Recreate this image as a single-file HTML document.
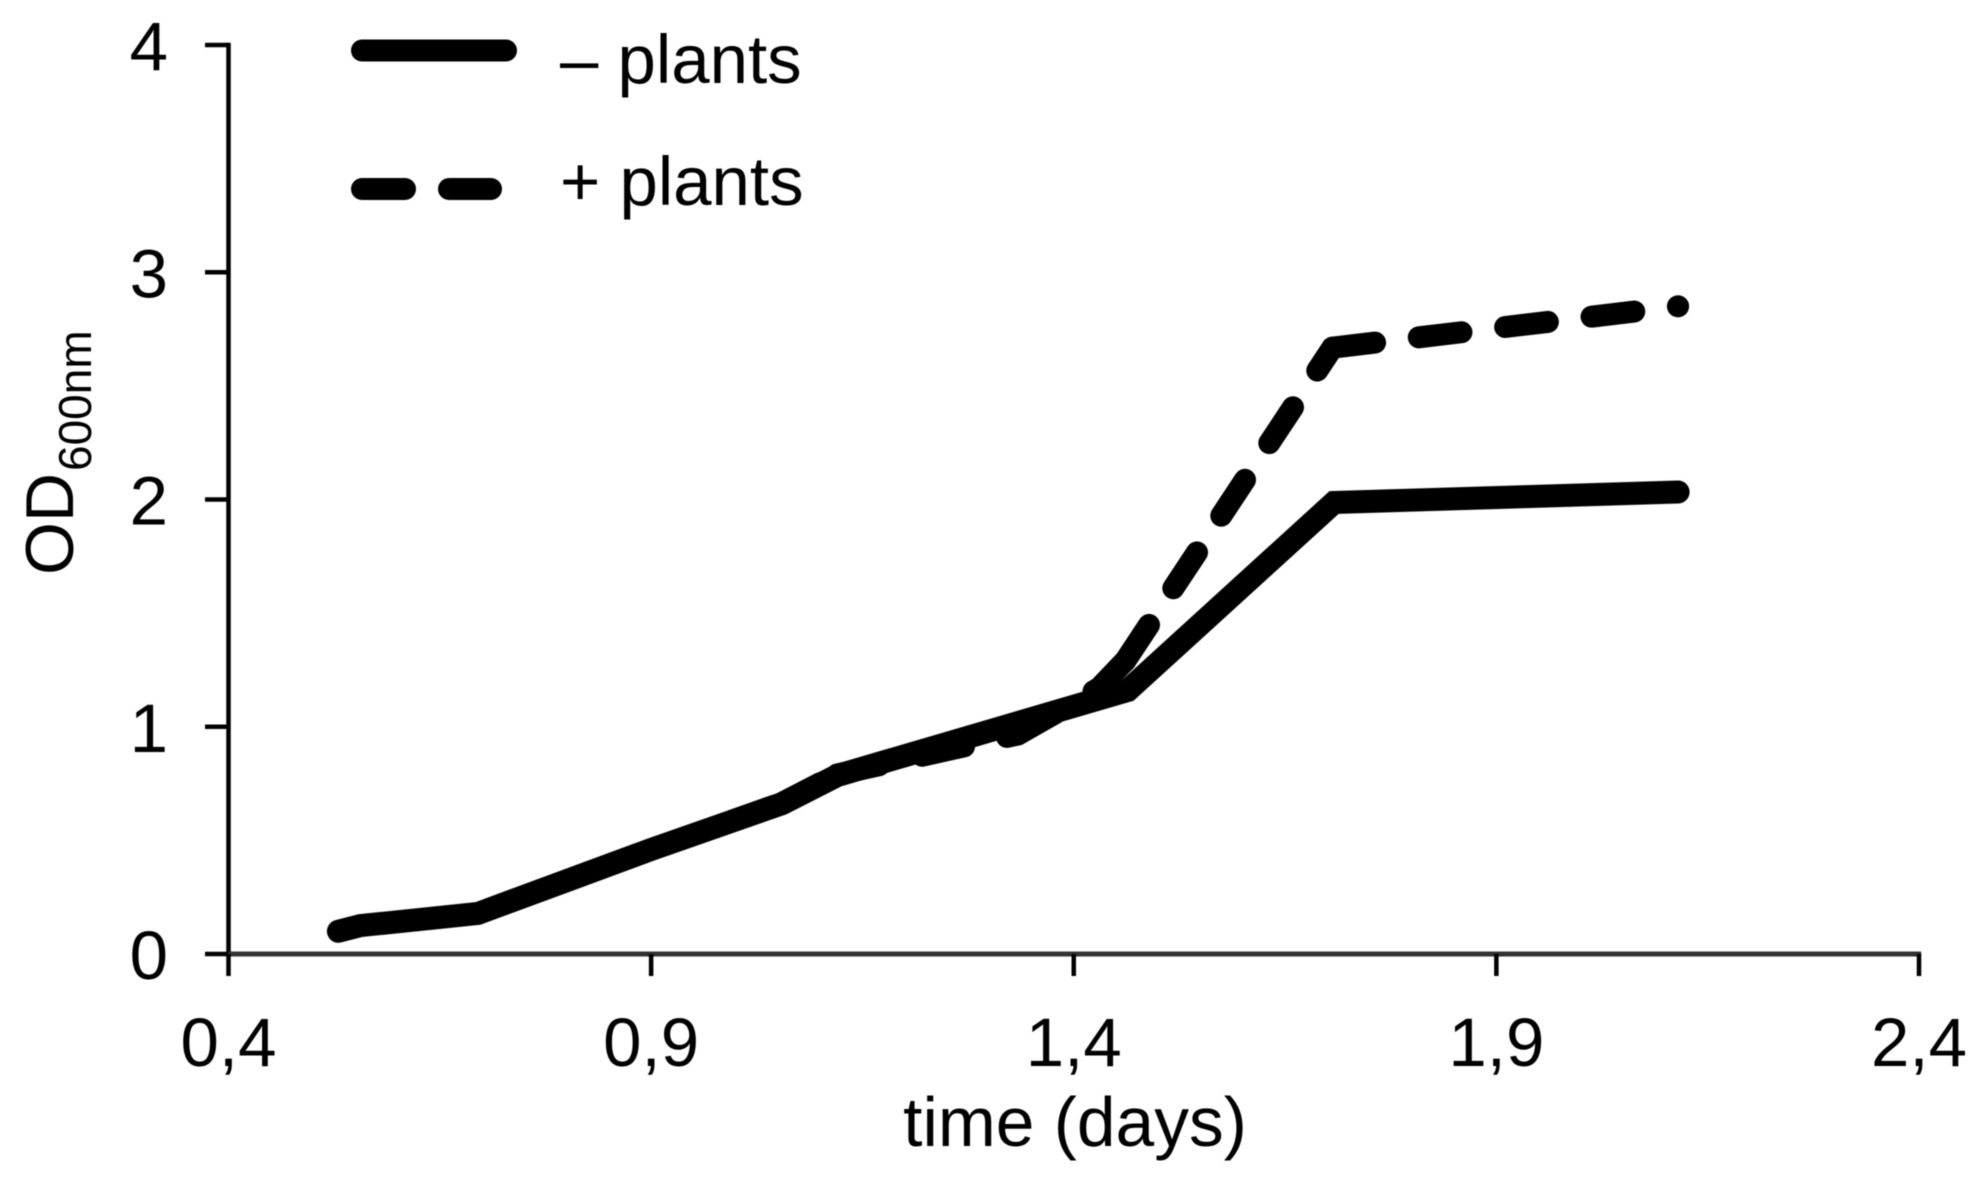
<!DOCTYPE html>
<html lang="en">
<head>
<meta charset="utf-8">
<title>OD600nm over time</title>
<style>
html,body{margin:0;padding:0;background:#fff;}
svg{display:block;filter:blur(0.5px);}
text{font-family:"Liberation Sans",Arial,sans-serif;fill:#000;}
</style>
</head>
<body>
<svg id="chart" xmlns="http://www.w3.org/2000/svg" width="1988" height="1183" viewBox="0 0 1988 1183">
  <rect x="0" y="0" width="1988" height="1183" fill="#fff"/>
  <g id="axes"></g>
  <g id="series"></g>
  <g>
    <line x1="362" y1="50.5" x2="506" y2="50.5" stroke="#000" stroke-width="22" stroke-linecap="round"/>
    <text x="560" y="83" font-size="69">– plants</text>
    <line x1="362" y1="189" x2="491" y2="189" stroke="#000" stroke-width="22" stroke-linecap="round" stroke-dasharray="43 44"/>
    <text x="560" y="205" font-size="69">+ plants</text>
  </g>
  <text x="1075" y="1146" font-size="69.5" text-anchor="middle">time (days)</text>
  <g transform="translate(73,575) rotate(-90)">
    <text x="0" y="0" font-size="68">OD</text>
    <text x="104" y="18" font-size="46">600nm</text>
  </g>
</svg>
<script>
const xTicks = [0.4, 0.9, 1.4, 1.9, 2.4];
const xTickLabels = ['0,4', '0,9', '1,4', '1,9', '2,4'];
const yTicks = [0, 1, 2, 3, 4];
const yTickLabels = ['0', '1', '2', '3', '4'];
const minusTimes = [0.53, 0.556, 0.695, 0.9, 1.055, 1.12, 1.464, 1.708, 2.115];
const minusOD = [0.1, 0.125, 0.178, 0.46, 0.662, 0.785, 1.16, 1.987, 2.033];
const plusTimes = [0.53, 0.556, 0.695, 0.9, 1.055, 1.12, 1.334, 1.43, 1.461, 1.706, 2.115];
const plusOD = [0.1, 0.125, 0.178, 0.46, 0.665, 0.79, 0.966, 1.17, 1.29, 2.668, 2.85];

const NS = 'http://www.w3.org/2000/svg';
const X_MIN = 0.4, X_MAX = 2.4, Y_MIN = 0, Y_MAX = 4;
const LEFT = 228.5, RIGHT = 1919, BOTTOM = 954, TOP = 45;
function xScale(v) { return LEFT + (v - X_MIN) / (X_MAX - X_MIN) * (RIGHT - LEFT); }
function yScale(v) { return BOTTOM - (v - Y_MIN) / (Y_MAX - Y_MIN) * (BOTTOM - TOP); }
function make(tag, attrs, parent) {
  const el = document.createElementNS(NS, tag);
  Object.keys(attrs).forEach(function (k) { el.setAttribute(k, attrs[k]); });
  parent.appendChild(el);
  return el;
}
const axes = document.getElementById('axes');
const series = document.getElementById('series');

const yAxis = make('line', { x1: LEFT, y1: TOP - 2.2, x2: LEFT, y2: BOTTOM, stroke: '#000', 'stroke-width': 4.5 }, axes);


const xAxis = make('line', { x1: LEFT, y1: BOTTOM, x2: RIGHT + 2.2, y2: BOTTOM, stroke: '#333', 'stroke-width': 5 }, axes);



xTicks.forEach(function (t, i) {
  const px = xScale(t);
  const tick = make('line', { x1: px, y1: BOTTOM, x2: px, y2: BOTTOM + 22, stroke: '#000', 'stroke-width': 4.5 }, axes);
  
  
  const label = make('text', { x: px, y: 1066, 'font-size': 69, 'text-anchor': 'middle' }, axes);
  
  
  label.textContent = xTickLabels[i];
});
yTicks.forEach(function (t, i) {
  const py = yScale(t);
  const tick = make('line', { x1: LEFT - 23.5, y1: py, x2: LEFT, y2: py, stroke: '#000', 'stroke-width': 4.5 }, axes);
  
  
  const label = make('text', { x: 168, y: py + 25, 'font-size': 69, 'text-anchor': 'end' }, axes);
  
  
  label.textContent = yTickLabels[i];
});

function pathFrom(xs, ys) {
  return xs.map(function (x, i) {
    return (i ? 'L' : 'M') + xScale(x).toFixed(1) + ' ' + yScale(ys[i]).toFixed(1);
  }).join(' ');
}
/* The dash pattern restarts at every data point, as in the reference. */
const plusGroup = make('g', { fill: 'none', stroke: '#000', 'stroke-width': 22, 'stroke-linecap': 'round', 'stroke-dasharray': '43 44' }, series);


for (let i = 0; i < plusTimes.length - 1; i++) {
  const seg = make('path', { d: pathFrom(plusTimes.slice(i, i + 2), plusOD.slice(i, i + 2)) }, plusGroup);
  
  
}

const minusLine = make('path', { d: pathFrom(minusTimes, minusOD), fill: 'none', stroke: '#000', 'stroke-width': 23, 'stroke-linecap': 'round', 'stroke-linejoin': 'miter' }, series);


</script>
</body>
</html>
